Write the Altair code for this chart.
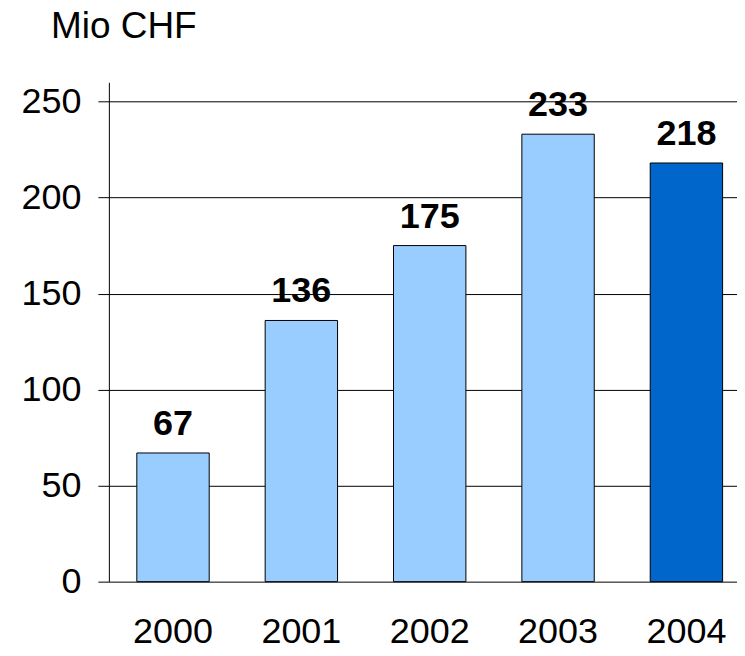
import altair as alt
import pandas as pd

years = ["2000", "2001", "2002", "2003", "2004"]
values = [67, 136, 175, 233, 218]
kinds = ["past", "past", "past", "past", "current"]

df = pd.DataFrame({"year": years, "value": values, "kind": kinds})

FONT = "Liberation Sans"

base = alt.Chart(df)

bars = base.mark_bar(stroke="black", strokeWidth=1).encode(
    x=alt.X("year:N", sort=years,
            scale=alt.Scale(paddingInner=0.436, paddingOuter=0.165, align=0.66),
            axis=alt.Axis(title=None, labelAngle=0, ticks=False, domain=False,
                          labelFont=FONT, labelFontSize=36, labelColor="black",
                          labelPadding=33, grid=False)),
    y=alt.Y("value:Q",
            scale=alt.Scale(domain=[0, 250]),
            axis=alt.Axis(title=None, values=[0, 50, 100, 150, 200, 250],
                          grid=True, gridColor="black", gridOpacity=1, gridWidth=1,
                          tickSize=11, tickColor="black", tickWidth=1,
                          domainColor="black", domainWidth=1,
                          labelFont=FONT, labelFontSize=36, labelColor="black",
                          labelPadding=17)),
    color=alt.Color("kind:N",
                    scale=alt.Scale(domain=["past", "current"], range=["#99CCFF", "#0066CC"]),
                    legend=None),
)

labels = base.mark_text(font=FONT, fontSize=36, fontWeight="bold", color="black",
                        baseline="alphabetic", dy=-18).encode(
    x=alt.X("year:N", sort=years),
    y=alt.Y("value:Q"),
    text=alt.Text("value:Q"),
)

chart = (bars + labels).properties(
    width=629, height=500,
    title=alt.TitleParams(text="Mio CHF", anchor="start", frame="group", dx=-58,
                          fontSize=37, font=FONT, fontWeight="normal",
                          color="black", offset=36),
    padding={"left": 12, "top": 0, "right": 0, "bottom": 0},
).configure_view(stroke=None)

chart.save("out.html", embed_options={"renderer": "svg", "actions": False})
